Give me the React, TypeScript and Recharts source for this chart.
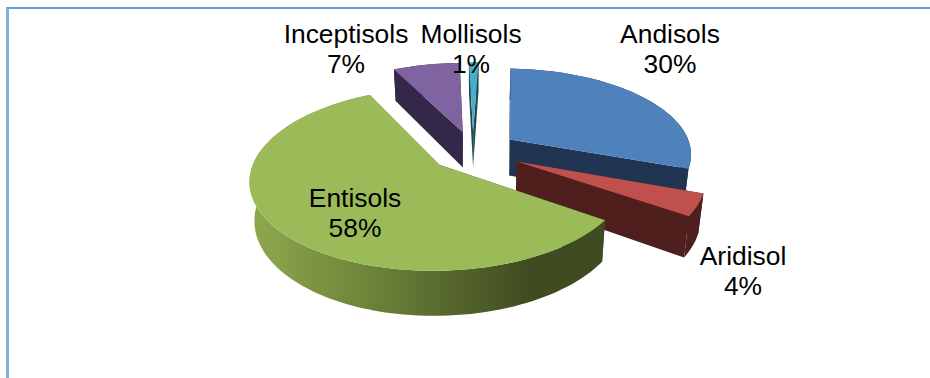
import React from 'react';
import { PieChart, Pie } from 'recharts';

const soilOrders = ['Andisols', 'Aridisol', 'Entisols', 'Inceptisols', 'Mollisols'];
const soilShares = [30, 4, 58, 7, 1];

const topColors = ['#4f81bd', '#c0504d', '#9bbb59', '#8064a2', '#4bacc6'];
const wallColors = ['#1f3552', '#4f1f1e', '#3f4b21', '#33284a', '#1e4a55'];

// how far each slice is pulled out, as a fraction of the radius
const explodeBySoil: Record<string, number> = {
  Andisols: 0.25,
  Aridisol: 0.265,
  Entisols: 0.24,
  Inceptisols: 0.24,
  Mollisols: 0.24,
};

// where each two-line label is centred (x, first baseline)
const labelAnchors: Record<string, [number, number]> = {
  Andisols: [670, 43],
  Aridisol: [743, 265],
  Entisols: [355, 207],
  Inceptisols: [346, 43],
  Mollisols: [471, 43],
};

const WIDTH = 930;
const HEIGHT = 378;
const CENTER_X = 473;
const CENTER_Y = 151;
const RADIUS = 120;

// projection of the tilted disc
const SCALE_X = 182;
const SCALE_Y = 85;
const TILT = 0.154;
const DEPTH = 37;
const BOTTOM_SHRINK = 0.022;
const ROTATION = 2;

const tableData = soilOrders.map((name, i) => ({
  name,
  value: soilShares[i],
  top: topColors[i],
  wall: wallColors[i],
}));

type Pt = [number, number];

const project = (u: number, v: number, drop = 0): Pt => {
  const w = 1 - TILT * v;
  const shrink = 1 - (BOTTOM_SHRINK * drop) / DEPTH;
  return [CENTER_X + (SCALE_X * u * shrink) / w, CENTER_Y + (SCALE_Y * v + drop) / w];
};

const toPath = (pts: Pt[]) =>
  pts.map((p, i) => `${i ? 'L' : 'M'}${p[0].toFixed(1)} ${p[1].toFixed(1)}`).join(' ') + ' Z';

// Pie hands out chart angles (counter-clockwise from 3 o'clock)
const onDisc = (deg: number): Pt => {
  const a = (deg * Math.PI) / 180;
  return [Math.cos(a), -Math.sin(a)];
};

const Slice3D = (props: any) => {
  const { startAngle, endAngle, midAngle, payload, index } = props;
  const [ou, ov] = onDisc(midAngle);
  const du = ou * explodeBySoil[payload.name];
  const dv = ov * explodeBySoil[payload.name];

  const steps = Math.max(4, Math.ceil(Math.abs(startAngle - endAngle) / 2));
  const rim: Pt[] = [];
  for (let i = 0; i <= steps; i++) {
    const [u, v] = onDisc(startAngle + ((endAngle - startAngle) * i) / steps);
    rim.push([u + du, v + dv]);
  }
  const apex: Pt = [du, dv];
  const up = (p: Pt) => project(p[0], p[1]);
  const down = (p: Pt) => project(p[0], p[1], DEPTH);

  const rimTop = rim.map(up);
  const rimBottom = rim.map(down).reverse();
  const isEntisols = payload.name === 'Entisols';
  const gradientId = `rim-${index}`;

  return (
    <g>
      {isEntisols && (
        <defs>
          <linearGradient id={gradientId} gradientUnits="userSpaceOnUse" x1="250" y1="0" x2="604" y2="0">
            <stop offset="0" stopColor="#8fa94f" />
            <stop offset="0.32" stopColor="#6f8539" />
            <stop offset="0.8" stopColor="#3f4b21" />
            <stop offset="1" stopColor="#3f4b21" />
          </linearGradient>
        </defs>
      )}
      <path d={toPath([up(apex), rimTop[0], down(rim[0]), down(apex)])} fill={payload.wall} />
      <path d={toPath([up(apex), rimTop[steps], down(rim[steps]), down(apex)])} fill={payload.wall} />
      <path
        d={toPath([...rimTop, ...rimBottom])}
        fill={isEntisols ? `url(#${gradientId})` : payload.wall}
      />
      <path d={toPath([up(apex), ...rimTop])} fill={payload.top} />
    </g>
  );
};

const renderLabel = (props: any) => {
  const { name, value } = props;
  const [x, y] = labelAnchors[name];
  return (
    <text
      x={x}
      textAnchor="middle"
      fontFamily="'Liberation Sans', Arial, sans-serif"
      fontSize={26.4}
      fill="#000"
    >
      <tspan x={x} y={y}>{name}</tspan>
      <tspan x={x} y={y + 30}>{`${value}%`}</tspan>
    </text>
  );
};

const App: React.FC = () => (
  <div style={{ position: 'fixed', left: 0, top: 0, width: WIDTH, height: HEIGHT, background: '#fff', overflow: 'hidden' }}>
    <div
      style={{
        position: 'absolute',
        left: 6,
        top: 7,
        width: 930,
        height: 380,
        borderTop: '2px solid #6a9fd4',
        borderLeft: '3px solid #7fb0e0',
      }}
    />
    <div style={{ position: 'absolute', left: 0, top: 0 }}>
      <PieChart width={WIDTH} height={HEIGHT} margin={{ top: 0, right: 0, bottom: 0, left: 0 }}>
        <Pie
          data={tableData}
          dataKey="value"
          nameKey="name"
          cx={CENTER_X}
          cy={CENTER_Y}
          outerRadius={RADIUS}
          startAngle={90 - ROTATION}
          endAngle={90 - ROTATION - 360}
          stroke="none"
          shape={Slice3D}
          label={renderLabel}
          labelLine={false}
          isAnimationActive={false}
        />
      </PieChart>
    </div>
  </div>
);

export default App;
